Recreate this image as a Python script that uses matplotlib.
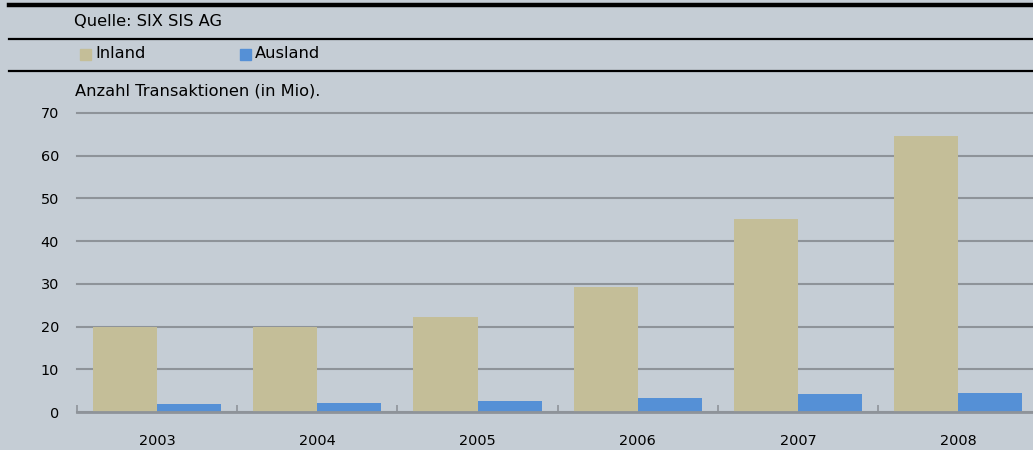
import matplotlib.pyplot as plt
import numpy as np

years = ['2003', '2004', '2005', '2006', '2007', '2008']
inland = [19.9, 19.8, 22.3, 29.3, 45.3, 64.6]
ausland = [1.9, 2.1, 2.6, 3.3, 4.1, 4.5]

bg = '#c5cdd5'
c_in = '#c4be98'
c_aus = '#5590d6'
grid_c = '#8e9399'
plt.rcParams['font.family'] = ['DejaVu Sans']
fs = 11.7      # header text
fs_num = 10.4  # tick labels

W, H = 1033, 450
fig = plt.figure(figsize=(W/100, H/100), dpi=100, facecolor=bg)

def fx(px): return px / W
def fy(py): return 1 - py / H

# header rules
fig.add_artist(plt.Line2D([fx(9), 1], [fy(5), fy(5)], color='black', lw=3.2))
fig.add_artist(plt.Line2D([fx(9), 1], [fy(38.5), fy(38.5)], color='black', lw=1.6))
fig.add_artist(plt.Line2D([fx(9), 1], [fy(71), fy(71)], color='black', lw=1.6))

fig.text(fx(74), fy(22), 'Quelle: SIX SIS AG', fontsize=fs, va='center', ha='left')
fig.add_artist(plt.Rectangle((fx(80), fy(60)), fx(11), 11/H, color=c_in))
fig.text(fx(95), fy(54), 'Inland', fontsize=fs, va='center', ha='left')
fig.add_artist(plt.Rectangle((fx(240), fy(60)), fx(11), 11/H, color=c_aus))
fig.text(fx(255), fy(54), 'Ausland', fontsize=fs, va='center', ha='left')
fig.text(fx(75), fy(91), 'Anzahl Transaktionen (in Mio).', fontsize=fs, va='center', ha='left')

ax = fig.add_axes([fx(77), fy(412), 1 - fx(77), (412 - 113) / H])
ax.set_facecolor(bg)
x = np.arange(len(years))
ax.bar(x - 0.2, inland, width=0.4, color=c_in, zorder=3)
ax.bar(x + 0.2, ausland, width=0.4, color=c_aus, zorder=3)

ax.set_ylim(0, 70)
ax.set_xlim(-0.5, 5.467)
ax.set_yticks(range(0, 71, 10))
ax.yaxis.grid(True, color=grid_c, lw=1.5)
for gl in ax.yaxis.get_gridlines():
    gl.set_clip_on(False)
ax.set_axisbelow(True)
for s in ['top', 'right', 'left']:
    ax.spines[s].set_visible(False)
ax.spines['bottom'].set_color(grid_c)
ax.spines['bottom'].set_linewidth(2)
ax.spines['bottom'].set_zorder(4)

ax.set_xticks(x)
ax.set_xticklabels(years, fontsize=fs_num)
ax.tick_params(axis='x', length=0, pad=16)
ax.set_xticks(np.arange(-0.5, 5.5, 1), minor=True)
ax.tick_params(axis='x', which='minor', direction='in', length=5, color=grid_c, width=1.2)
ax.tick_params(axis='y', length=0, pad=13, labelsize=fs_num)

fig.savefig('out.png', dpi=100, facecolor=bg)
